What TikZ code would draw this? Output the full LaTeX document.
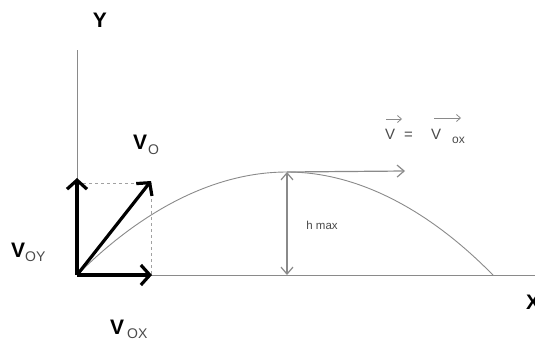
\documentclass[tikz,border=0pt]{standalone}
\usepackage{fontspec}
\setmainfont{Liberation Sans}
\usetikzlibrary{arrows.meta}
\definecolor{axisgray}{HTML}{8A8A8A}
\definecolor{subgray}{HTML}{4A4A4A}
\tikzset{
  axis/.style={draw=axisgray, line width=0.9pt},
  vec/.style={draw=black, line width=3.2pt, -{Straight Barb[length=9pt,width=20pt,line width=3.2pt]}},
  gvec/.style={draw=axisgray, line width=1.2pt, -{Straight Barb[length=7pt,width=12pt,line width=1.2pt]}},
  gdvec/.style={draw=axisgray, line width=1.2pt, {Straight Barb[length=7pt,width=12pt,line width=1.2pt]}-{Straight Barb[length=7pt,width=12pt,line width=1.2pt]}},
  dashline/.style={draw=axisgray!80, line width=0.9pt, dash pattern=on 3pt off 3pt},
  big/.style={font=\fontsize{21}{21}\selectfont\bfseries, inner sep=0pt},
  lbl/.style={inner sep=0pt, anchor=base west},
  eqtxt/.style={inner sep=0pt, anchor=base west, text=subgray, font=\fontsize{15}{15}\selectfont},
  small arrow/.style={draw=axisgray, line width=0.8pt, -{Straight Barb[length=4pt,width=7pt,line width=0.8pt]}},
}
\newcommand{\subtxt}[1]{{\color{subgray}\fontsize{14}{14}\selectfont #1}}
\newcommand{\bigV}{{\fontsize{21}{21}\selectfont\bfseries V}}
\begin{document}
\begin{tikzpicture}[x=1pt,y=-1pt]
\useasboundingbox (0,0) rectangle (535,343);
\coordinate (O) at (77,275);
\coordinate (ytop) at (77,50);
\coordinate (xend) at (535,275);
\coordinate (vy) at (77,178);
\coordinate (vx) at (152,275);
\coordinate (vo) at (151,181);
\coordinate (corner) at (151,183);
\coordinate (cy) at (77,183);
\coordinate (cx) at (151,275);
\coordinate (apex) at (287,172);
\coordinate (land) at (493,275);
\coordinate (hbase) at (287,275);
\coordinate (vtip) at (405,171);
% axes
\draw[axis] (O) -- (ytop);
\draw[axis] (O) -- (xend);
% trajectory
\draw[axis] (O) parabola bend (apex) (land);
% dashed components
\draw[dashline] (cy) -- (corner) -- (cx);
% h max
\draw[gdvec] (apex) -- (hbase);
\node[inner sep=0pt, font=\fontsize{11.5}{11.5}\selectfont, text=subgray] (hmax) at (322,225) {h max};
% velocity at apex
\draw[gvec] (apex) -- (vtip);
% vectors
\draw[vec] (O) -- (vy);
\draw[vec] (O) -- (vx);
\draw[vec] (O) -- (vo);
% labels
\node[big] (Ylbl) at (100,20) {Y};
\node[big] (Xlbl) at (533,302) {X};
\node[lbl] (voy) at (11,257) {\bigV\raisebox{-4pt}{\subtxt{OY}}};
\node[lbl] (vol) at (133,149) {\bigV\hspace{1pt}\raisebox{-5pt}{\subtxt{O}}};
\node[lbl] (vox) at (110,334) {\bigV\hspace{3pt}\raisebox{-4pt}{\subtxt{OX}}};
% V = V ox
\node[eqtxt] (v1) at (385,139) {V};
\node[eqtxt] (eq) at (404,139) {=};
\node[eqtxt] (v2) at (431,139) {V};
\node[eqtxt, font=\fontsize{12}{12}\selectfont] (ox) at (452,143) {ox};
\coordinate (a1s) at (386,119);
\coordinate (a1e) at (402,119);
\coordinate (a2s) at (434,118);
\coordinate (a2e) at (461,118);
\draw[small arrow] (a1s) -- (a1e);
\draw[small arrow] (a2s) -- (a2e);
\end{tikzpicture}
\end{document}
